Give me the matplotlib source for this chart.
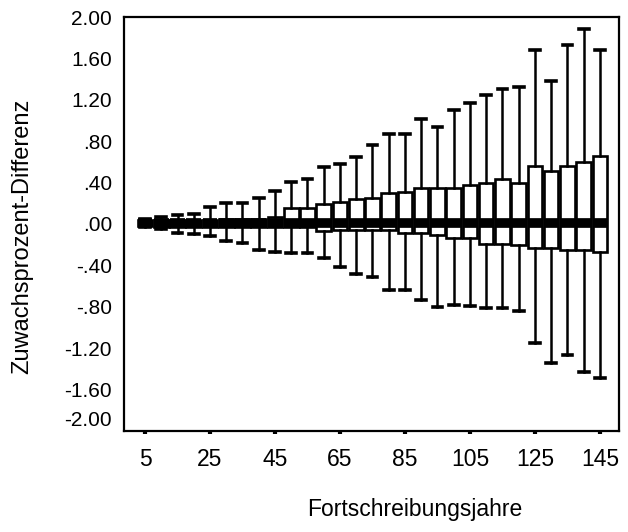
import matplotlib
matplotlib.use("Agg")
import matplotlib.pyplot as plt
from matplotlib.transforms import ScaledTranslation

plt.rcParams["font.family"] = ["Liberation Sans", "DejaVu Sans"]

# Fortschreibungsjahre 5, 10, ..., 145
years = list(range(5, 150, 5))

median = [0.01] * len(years)
q1 = [-0.02, -0.03, -0.03, -0.03, -0.03, -0.03, -0.03, -0.03, -0.03, -0.03,
      -0.03, -0.07, -0.06, -0.06, -0.06, -0.06, -0.09, -0.09, -0.11, -0.14,
      -0.14, -0.19, -0.19, -0.20, -0.23, -0.23, -0.25, -0.25, -0.27]
q3 = [0.04, 0.04, 0.04, 0.04, 0.04, 0.05, 0.05, 0.05, 0.07, 0.15,
      0.15, 0.19, 0.21, 0.24, 0.25, 0.30, 0.31, 0.35, 0.35, 0.35,
      0.38, 0.40, 0.43, 0.40, 0.56, 0.51, 0.56, 0.60, 0.66]
whisker_low = [-0.03, -0.05, -0.09, -0.10, -0.12, -0.16, -0.18, -0.25, -0.27, -0.28,
               -0.28, -0.33, -0.42, -0.48, -0.51, -0.64, -0.64, -0.73, -0.80, -0.78,
               -0.79, -0.81, -0.81, -0.84, -1.15, -1.34, -1.27, -1.43, -1.49]
whisker_high = [0.05, 0.07, 0.09, 0.10, 0.16, 0.20, 0.20, 0.25, 0.32, 0.41,
                0.43, 0.55, 0.58, 0.65, 0.76, 0.87, 0.87, 1.01, 0.94, 1.10,
                1.17, 1.25, 1.30, 1.32, 1.68, 1.38, 1.73, 1.88, 1.68]

y_ticks = [2.0, 1.6, 1.2, 0.8, 0.4, 0.0, -0.4, -0.8, -1.2, -1.6, -2.0]
y_tick_labels = ["2.00", "1.60", "1.20", ".80", ".40", ".00", "-.40", "-.80",
                 "-1.20", "-1.60", "-2.00"]
x_ticks = [5, 25, 45, 65, 85, 105, 125, 145]

stats = []
for i in range(len(years)):
    stats.append({
        "med": median[i], "q1": q1[i], "q3": q3[i],
        "whislo": whisker_low[i], "whishi": whisker_high[i],
        "fliers": [],
    })

fig = plt.figure(figsize=(6.28, 5.32), dpi=100)
ax = fig.add_axes([0.1975, 0.190, 0.788, 0.778])

ax.bxp(stats, positions=years, widths=4.5, capwidths=3.0,
       patch_artist=True, showfliers=False, manage_ticks=False,
       boxprops=dict(facecolor="white", edgecolor="black", linewidth=1.9),
       whiskerprops=dict(color="black", linewidth=1.8),
       capprops=dict(color="black", linewidth=2.6),
       medianprops=dict(color="black", linewidth=7, solid_capstyle="butt"))

ax.set_xlim(-1.46, 150.85)
ax.set_ylim(-2.0, 2.0)

ax.set_xticks(x_ticks)
ax.set_xticklabels([str(x) for x in x_ticks], fontsize=16.5)
ax.set_yticks(y_ticks)
ax.set_yticklabels(y_tick_labels, fontsize=15)
ax.tick_params(axis="x", direction="out", length=2.5, width=3, pad=9.5)
ax.tick_params(axis="y", length=0, pad=8.6)

# lowest y label sits a bit above the bottom spine
low_label = ax.get_yticklabels()[-1]
low_label.set_transform(low_label.get_transform()
                        + ScaledTranslation(0, 0.12, fig.dpi_scale_trans))

for spine in ax.spines.values():
    spine.set_linewidth(1.6)

ax.set_xlabel("Fortschreibungsjahre", fontsize=16.5)
ax.xaxis.set_label_coords(0.588, -0.191)
ax.xaxis.label.set_va("center")
ax.set_ylabel("Zuwachsprozent-Differenz", fontsize=17)
ax.yaxis.set_label_coords(-0.205, 0.471)
ax.yaxis.label.set_va("center")

fig.savefig("out.png", dpi=100)
